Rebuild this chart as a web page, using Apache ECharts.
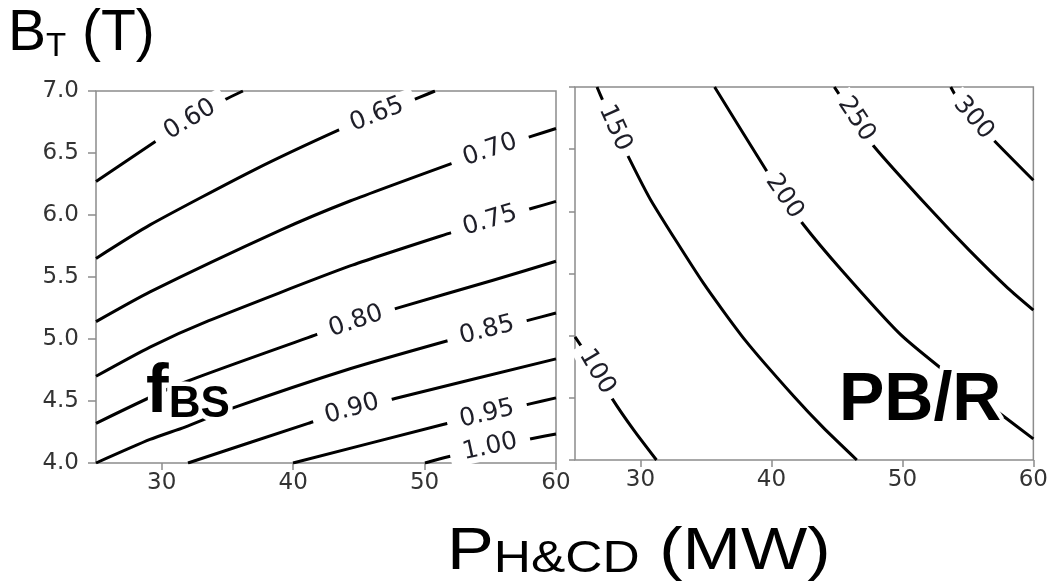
<!DOCTYPE html>
<html><head><meta charset="utf-8">
<script src="https://cdn.jsdelivr.net/npm/echarts@6/dist/echarts.min.js"></script>
<style>html,body{margin:0;padding:0;background:#fff}#c{width:1051px;height:587px}</style>
</head><body><div id="c"></div>
<script>
// ---- data ----
const xTicks = [30, 40, 50, 60];
const yTicks = [4.0, 4.5, 5.0, 5.5, 6.0, 6.5, 7.0];
const xRange = [25, 60];
const yRange = [4.0, 7.0];

// f_BS contour levels and traced contour lines [P_H&CD (MW), B_T (T)]
const fbsLevels = ['0.60', '0.65', '0.70', '0.75', '0.80', '0.85', '0.90', '0.95', '1.00'];
const fbsLines = [
  [[25,6.27],[29.49,6.59],[32.15,6.77],[34.81,6.93],[36.18,7.0]],
  [[25,5.65],[29.11,5.92],[36.97,6.36],[43.57,6.69],[46.38,6.81],[49.65,6.95],[50.79,7.0]],
  [[25,5.14],[29.11,5.38],[39.0,5.876],[44.33,6.113],[51.93,6.411],[54.98,6.524],[58.17,6.636],[60,6.698]],
  [[25,4.70],[29.11,4.935],[33.54,5.146],[44.33,5.589],[52.09,5.86],[54.98,5.955],[58.25,6.056],[60,6.11]],
  [[25,4.32],[31.24,4.631],[41.66,5.031],[44.78,5.143],[47.98,5.251],[55.21,5.474],[60,5.627]],
  [[25,4.0],[29.11,4.19],[31.77,4.29],[35.32,4.44],[44.33,4.76],[51.55,4.98],[54.75,5.07],[57.87,5.15],[60,5.21]],
  [[32.0,4.0],[41.15,4.32],[44.48,4.435],[47.75,4.52],[60,4.84]],
  [[39.99,4.0],[51.40,4.31],[54.75,4.395],[58.02,4.477],[60,4.525]],
  [[50.03,4.0],[51.71,4.048],[54.98,4.129],[58.40,4.202],[60,4.234]]
];
const fbsLabelAt = [2, 4, 5, 5, 3, 6, 2, 2, 2];

// PB/R contour levels and traced contour lines
const pbrLevels = ['100', '150', '200', '250', '300'];
const pbrLines = [
  [[25,4.99],[25.51,4.91],[26.68,4.71],[27.80,4.50],[29.49,4.24],[31.22,4.0]],
  [[26.68,7.0],[27.17,6.88],[28.05,6.67],[29.07,6.44],[30.79,6.09],[34.82,5.42],[38.02,4.96],[41.72,4.51],[43.96,4.26],[46.52,4.0]],
  [[35.66,7.0],[39.60,6.33],[40.99,6.12],[42.39,5.90],[45.33,5.53],[49.75,5.02],[52.80,4.75],[57.37,4.38],[60,4.17]],
  [[44.80,7.0],[45.18,6.94],[46.48,6.74],[47.85,6.52],[52.19,6.01],[55.08,5.69],[58.05,5.383],[60,5.206]],
  [[53.69,7.0],[54.13,6.92],[55.43,6.75],[57.09,6.56],[60,6.25]]
];
const pbrLabelAt = [2, 2, 2, 2, 2];

// ---- chart ----
const chart = echarts.init(document.getElementById('c'), null, {renderer: 'canvas'});
const FRAME = '#8c8c8c';
const TICKCOL = '#333';
const DJ = 'DejaVu Sans';
const AR = '"Liberation Sans", Arial, sans-serif';

function xAxisCfg(g) {
  return {
    type: 'value', gridIndex: g, min: xRange[0], max: xRange[1],
    axisLine: {show: false},
    axisTick: {show: true, customValues: xTicks, length: 7, lineStyle: {color: FRAME, width: 1.5}},
    axisLabel: {show: true, customValues: xTicks, fontSize: 23, fontFamily: DJ, color: TICKCOL, margin: 9},
    splitLine: {show: false}
  };
}
function yAxisCfg(g, showLabel, tickLen) {
  return {
    type: 'value', gridIndex: g, min: yRange[0], max: yRange[1],
    axisLine: {show: false},
    axisTick: {show: true, customValues: yTicks, length: tickLen, lineStyle: {color: FRAME, width: 1.5}},
    axisLabel: {show: showLabel, customValues: yTicks, fontSize: 23, fontFamily: DJ, color: TICKCOL, margin: 17,
      formatter: v => Number(v).toFixed(1)},
    splitLine: {show: false}
  };
}

function lineSeries(lines, g) {
  return lines.map(pts => ({
    type: 'line', xAxisIndex: g, yAxisIndex: g, data: pts,
    symbol: 'none', showSymbol: false, smooth: 0.2,
    lineStyle: {color: '#000', width: 3, join: 'round'}, silent: true, z: 2
  }));
}

function labelSeries(lines, levels, at, g, pad, ready) {
  const data = ready ? lines.map((pts, i) => {
    const k = at[i];
    const a = chart.convertToPixel({gridIndex: g}, pts[k - 1]);
    const b = chart.convertToPixel({gridIndex: g}, pts[k + 1]);
    const ang = -Math.atan2(b[1] - a[1], b[0] - a[0]) * 180 / Math.PI;
    return {value: pts[k], label: {formatter: levels[i], rotate: ang}};
  }) : [];
  return {
    type: 'scatter', xAxisIndex: g, yAxisIndex: g, symbolSize: 0, silent: true, z: 5,
    itemStyle: {opacity: 1},
    data: data,
    label: {show: true, position: 'inside', fontSize: 25, fontFamily: DJ, color: '#1e1e28', opacity: 1,
      textBorderWidth: 0, backgroundColor: '#fff', padding: [0, pad], align: 'center', verticalAlign: 'middle'}
  };
}

function makeSeries(ready) {
  return [].concat(
    lineSeries(fbsLines, 0),
    lineSeries(pbrLines, 1),
    [labelSeries(fbsLines, fbsLevels, fbsLabelAt, 0, 13, ready),
     labelSeries(pbrLines, pbrLevels, pbrLabelAt, 1, 7, ready)]
  );
}

function richText(x, y, text, rich, halo, scaleX) {
  const r = {};
  Object.keys(rich).forEach(k => {
    r[k] = Object.assign({}, rich[k], halo
      ? {fill: '#fff', stroke: '#fff', lineWidth: 9}
      : {fill: '#000'});
  });
  return {
    type: 'text', x: x, y: y, z: halo ? 100 : 101, silent: true, scaleX: scaleX || 1,
    style: {text: text, rich: r, fill: halo ? '#fff' : '#000', stroke: halo ? '#fff' : null,
      lineWidth: halo ? 9 : 0, verticalAlign: 'top', align: 'left'}
  };
}

const titleRich = {
  b: {fontSize: 57, fontFamily: AR, lineHeight: 57},
  s: {fontSize: 33, fontFamily: AR, lineHeight: 30, verticalAlign: 'bottom'}
};
const xTitleRich = {
  b: {fontSize: 60, fontFamily: AR, lineHeight: 60},
  s: {fontSize: 44, fontFamily: AR, lineHeight: 35, verticalAlign: 'bottom'}
};
const fbsRich = {
  b: {fontSize: 68, fontFamily: AR, fontWeight: 'bold', lineHeight: 68},
  s: {fontSize: 44, fontFamily: AR, fontWeight: 'bold', lineHeight: 39, verticalAlign: 'bottom'}
};
const pbrRich = {
  b: {fontSize: 68, fontFamily: AR, fontWeight: 'bold', lineHeight: 68}
};

const option = {
  animation: false,
  backgroundColor: '#fff',
  grid: [
    {left: 96, top: 91, width: 460, height: 372, show: true, borderColor: FRAME, borderWidth: 1.5, backgroundColor: 'transparent'},
    {left: 575, top: 87, width: 461, height: 373, show: true, borderColor: FRAME, borderWidth: 1.5, backgroundColor: 'transparent'}
  ],
  xAxis: [xAxisCfg(0), xAxisCfg(1)],
  yAxis: [yAxisCfg(0, true, 8), yAxisCfg(1, false, 6)],
  series: makeSeries(false),
  graphic: [
    richText(8, 6, '{b|B}{s|T}{b| (T)}', titleRich, false),
    richText(447, 522, '{b|P}{s|H&CD}{b| (MW)}', xTitleRich, false, 1.17),
    richText(146, 359, '{b|f}{s|BS}', fbsRich, true),
    richText(146, 359, '{b|f}{s|BS}', fbsRich, false),
    richText(839, 367, '{b|PB/R}', pbrRich, true),
    richText(839, 367, '{b|PB/R}', pbrRich, false)
  ]
};
chart.setOption(option);
option.series = makeSeries(true);
chart.setOption(option);
</script>
</body></html>
